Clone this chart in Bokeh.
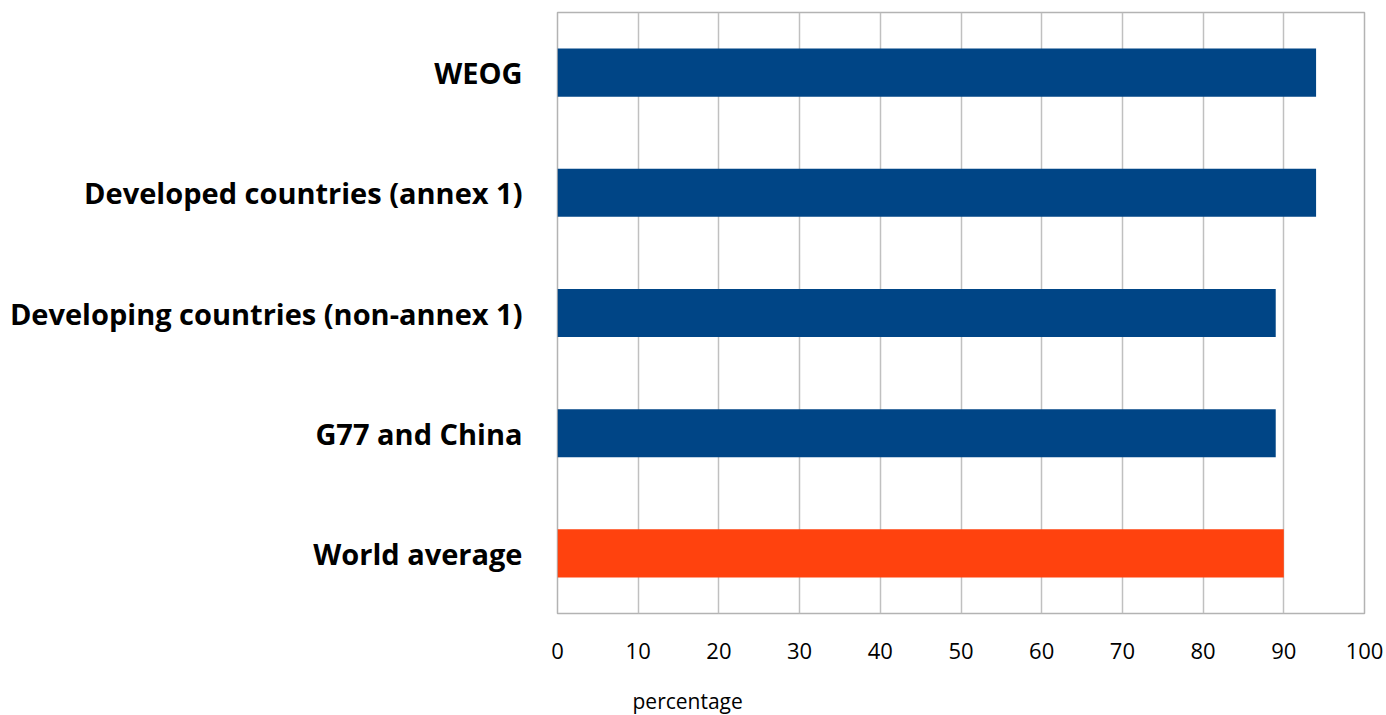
from bokeh.plotting import figure
from bokeh.models import FactorRange, Range1d, ColumnDataSource, FixedTicker, Title
from bokeh.embed import file_html
from bokeh.resources import INLINE

categories = ["WEOG", "Developed countries (annex 1)", "Developing countries (non-annex 1)",
              "G77 and China", "World average"]
values = [94, 94, 89, 89, 90]
x_ticks = [0, 10, 20, 30, 40, 50, 60, 70, 80, 90, 100]

BLUE = "#004586"
ORANGE = "#ff420e"
colors = [ORANGE if c == "World average" else BLUE for c in categories]

src = ColumnDataSource(dict(cat=categories, val=values, color=colors))

p = figure(width=1386, height=715, output_backend="svg", toolbar_location=None,
           y_range=FactorRange(factors=list(reversed(categories)), range_padding=0),
           x_range=Range1d(0, 100),
           min_border_left=557, min_border_right=22, min_border_top=12, min_border_bottom=102)
p.frame_width = 807
p.frame_height = 601

p.hbar(y="cat", left=0, right="val", height=0.4, color="color", line_color=None, source=src)

p.outline_line_color = "#b3b3b3"
p.outline_line_width = 1.5
p.ygrid.grid_line_color = None
p.xgrid.grid_line_color = "#c0c0c0"
p.xgrid.grid_line_width = 1.5
p.xaxis.ticker = FixedTicker(ticks=x_ticks)

p.xaxis.axis_line_color = None
p.xaxis.major_tick_line_color = None
p.xaxis.minor_tick_line_color = None
p.xaxis.major_label_text_font = "Open Sans"
p.xaxis.major_label_text_font_size = "22px"
p.xaxis.major_label_text_color = "#000000"
p.xaxis.major_label_standoff = 23

xlabel = Title(text="percentage", align="left", offset=75, standoff=46,
               text_font="Open Sans", text_font_size="21px", text_font_style="normal",
               text_color="#000000")
p.add_layout(xlabel, "below")

p.yaxis.axis_line_color = None
p.yaxis.major_tick_line_color = None
p.yaxis.minor_tick_line_color = None
p.yaxis.major_label_text_font = "Open Sans"
p.yaxis.major_label_text_font_style = "bold"
p.yaxis.major_label_text_font_size = "29px"
p.yaxis.major_label_text_color = "#000000"
p.yaxis.major_label_standoff = 29

open("out.html", "w").write(file_html(p, INLINE))
